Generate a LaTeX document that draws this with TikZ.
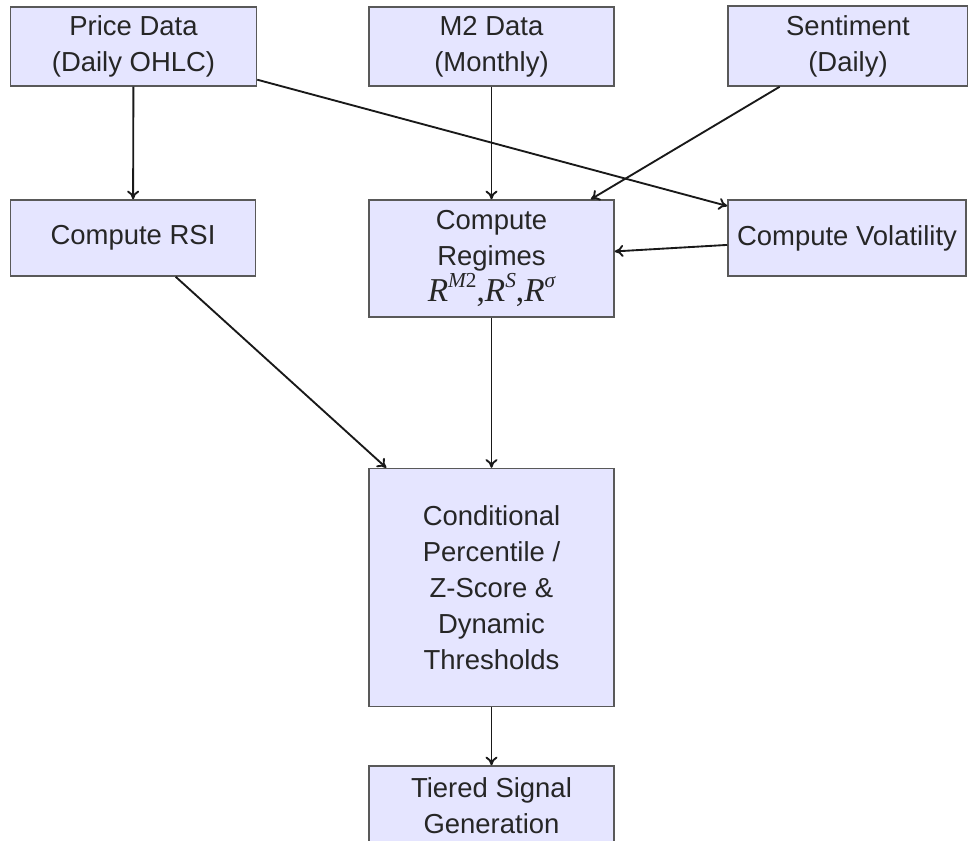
\documentclass[tikz,border=0pt]{standalone}
\usepackage{fontspec}
\setmainfont{Liberation Sans}
\newfontfamily\tms{Liberation Serif}
\usetikzlibrary{calc,arrows.meta}
% regime symbol R with a superscript, set in a Times-like italic
\newcommand{\regsym}[1]{{\tms\itshape R}\raisebox{0.42em}{\fontsize{16}{16}\selectfont #1}}
\tikzset{
  stagebox/.style={draw=black!65, line width=1.1pt, fill=blue!10, inner sep=0pt,
    align=center, font=\fontsize{20.6}{27}\selectfont, text=black!85},
  flow/.style={-{To[length=6.5pt,width=9pt]}, line width=1.4pt, draw=black!90}
}
\begin{document}
\begin{tikzpicture}[x=0.75pt, y=-0.75pt]
\useasboundingbox (0,0) rectangle (968,840);

% data sources
\node[stagebox, minimum width=246*0.75, minimum height=79*0.75] (price) at (133.5,46.5) {Price Data\\(Daily OHLC)};
\node[stagebox, minimum width=245*0.75, minimum height=79*0.75] (m2) at (491.5,46.5) {M2 Data\\(Monthly)};
\node[stagebox, minimum width=240*0.75, minimum height=80*0.75] (sent) at (848,46) {Sentiment\\(Daily)};

% derived quantities
\node[stagebox, minimum width=245*0.75, minimum height=76*0.75] (rsi) at (133,238) {Compute RSI};
\node[stagebox, minimum width=245*0.75, minimum height=117*0.75] (reg) at (491.5,258.5)
  {Compute\\Regimes\\{\fontsize{25}{27}\selectfont\regsym{{\tms\itshape M}{\tms 2}}{\tms ,}\regsym{{\tms\itshape S}}{\tms ,}\regsym{{\tms\itshape σ}}}};
\node[stagebox, minimum width=238*0.75, minimum height=76*0.75] (vol) at (847,238) {Compute Volatility};

% thresholds and signals
\node[stagebox, minimum width=245*0.75, minimum height=238*0.75] (cond) at (491.5,587.5)
  {Conditional\\Percentile /\\Z-Score \&\\Dynamic\\Thresholds};
\node[stagebox, minimum width=245*0.75, minimum height=79*0.75] (tier) at (491.5,805.5) {Tiered Signal\\Generation};

% connectors
\draw[flow] (price) -- (rsi);
\draw[flow] (price) -- (vol);
\draw[flow] (m2) -- (reg);
\draw[flow] (sent) -- (reg);
\draw[flow] (vol) -- (reg);
\draw[flow] (rsi) -- ($(cond.north west)+(18,0)$);
\draw[flow] (reg) -- (cond);
\draw[flow] (cond) -- (tier);
\end{tikzpicture}
\end{document}
